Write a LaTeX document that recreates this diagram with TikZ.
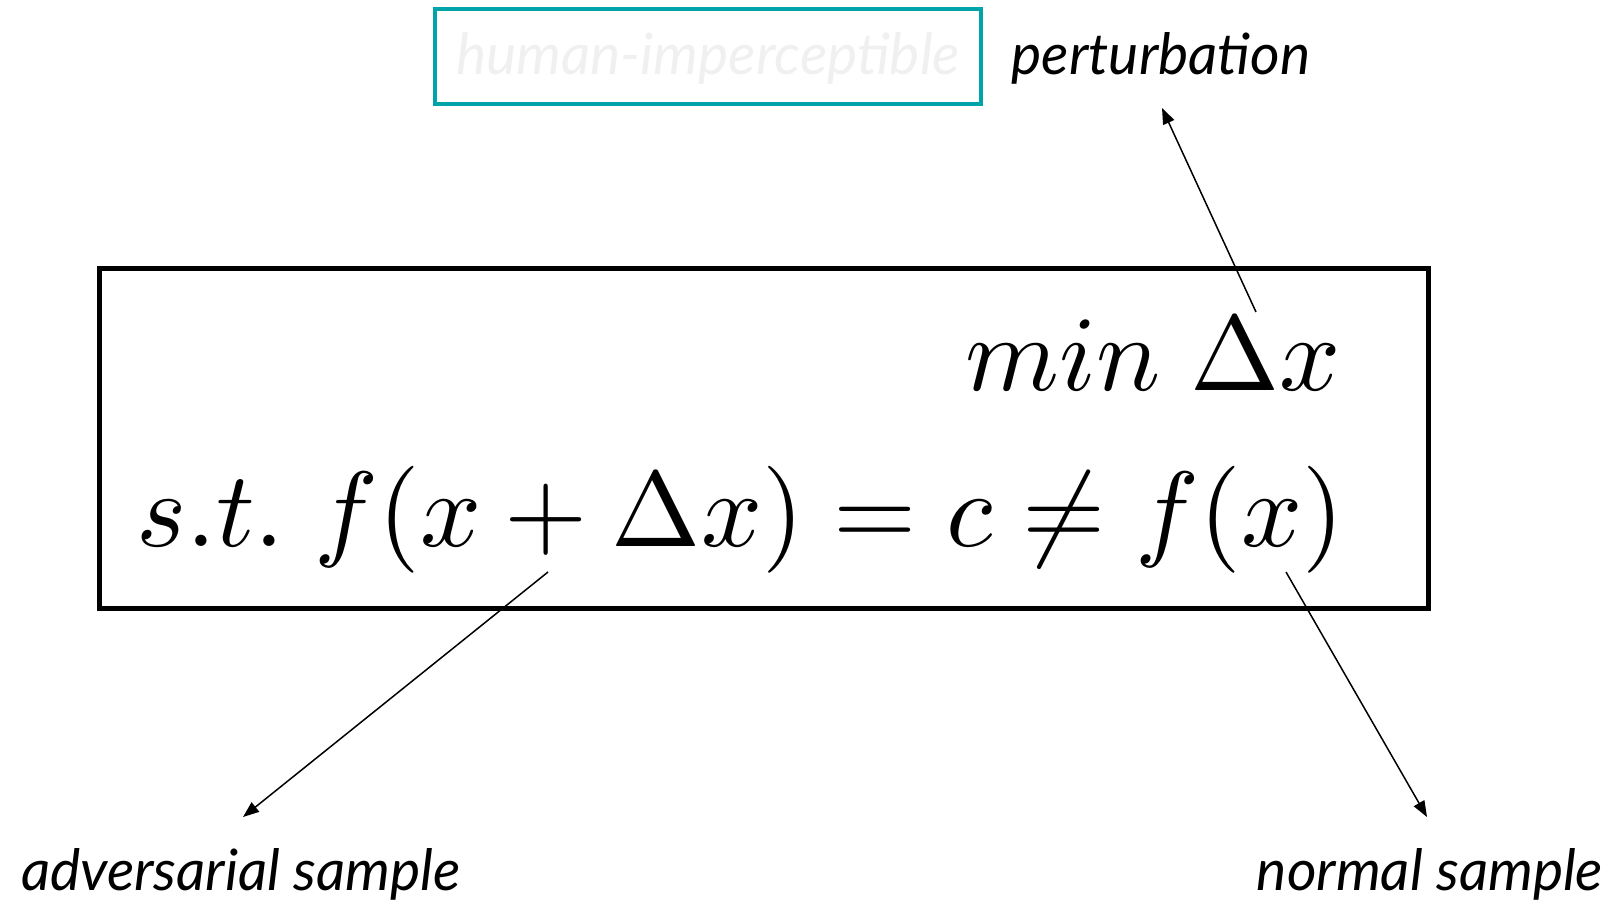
\documentclass[tikz,border=0pt]{standalone}
\usepackage[no-math]{fontspec}
\setmainfont{Lato}
\DeclareFontShape{OML}{cmm}{m}{it}{<-> cmmi10}{}
\DeclareFontShape{OMS}{cmsy}{m}{n}{<-> cmsy10}{}
\DeclareFontShape{OT1}{cmr}{m}{n}{<-> cmr10}{}
\DeclareFontShape{OMX}{cmex}{m}{n}{<-> cmex10}{}
\usetikzlibrary{arrows.meta}
\definecolor{tealbox}{RGB}{0,163,168}
\definecolor{ghost}{RGB}{240,240,240}
\newcommand{\gapsp}{\hspace{0.28em}}
\tikzset{
  lbl/.style={font=\fontsize{57}{66}\selectfont\itshape, inner sep=0pt},
  mth/.style={font=\fontsize{107}{120}\selectfont, inner sep=0pt},
  ptr/.style={line width=1.5pt, -{Triangle[length=16pt,width=12pt]}},
}
\begin{document}
\begin{tikzpicture}[x=1pt,y=-1pt]
\useasboundingbox (0,0) rectangle (1616,903);
% top box
\draw[tealbox, line width=4pt] (435,9) rectangle (981,104);
\node[lbl, text=ghost, anchor=center] (hum) at (708,58) {human-imperceptible};
\node[lbl, anchor=center] (pert) at (1161,58) {perturbation};
% main box
\draw[line width=5pt] (99,268) rectangle (1428,608);
\node[mth, anchor=base east] (min) at (1341,390) {$min\gapsp\Delta x$};
\node[mth, anchor=base east] (st) at (1344,546) {$s.t.\gapsp f(x+\Delta x)=c\neq f(x)$};
% labels
\node[lbl, anchor=center] (adv) at (241,874) {adversarial sample};
\node[lbl, anchor=center] (norm) at (1430,874) {normal sample};
% arrows
\coordinate (pa) at (1256,312);
\coordinate (pb) at (1162,108);
\coordinate (aa) at (548,572);
\coordinate (ab) at (243,817);
\coordinate (na) at (1286,572);
\coordinate (nb) at (1427,817);
\draw[ptr] (pa) -- (pb);
\draw[ptr] (aa) -- (ab);
\draw[ptr] (na) -- (nb);
\end{tikzpicture}
\end{document}
